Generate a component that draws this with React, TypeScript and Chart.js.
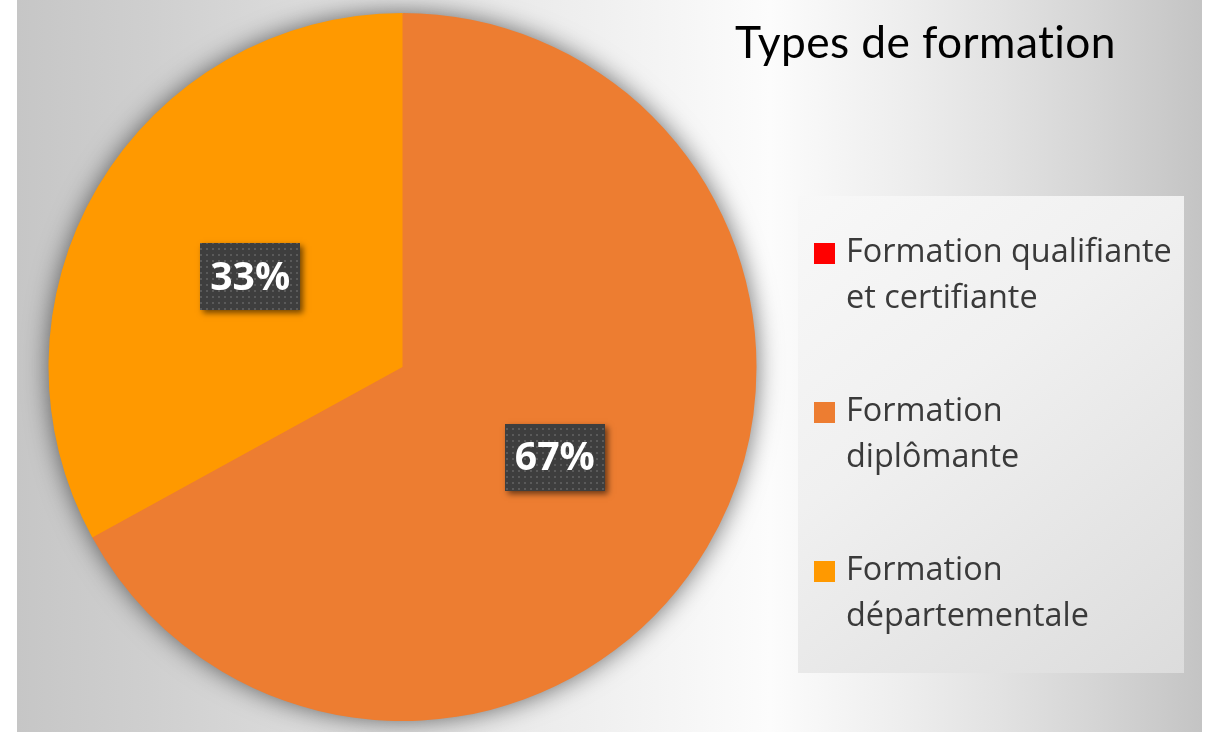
import { useEffect, useRef } from "react";
import { Chart, registerables } from "chart.js";

Chart.register(...registerables);

const chartTitle = "Types de formation";
const legendLines: string[][] = [
  ["Formation qualifiante", "et certifiante"],
  ["Formation", "diplômante"],
  ["Formation", "départementale"],
];
const categories = legendLines.map((l) => l.join(" "));
const values = [0, 67, 33];
const percentLabels = ["0%", "67%", "33%"];
const sliceColors = ["#FF0000", "#ED7D31", "#FF9900"];

const W = 1210;
const H = 732;

function fitSize(ctx: CanvasRenderingContext2D, text: string, target: number, weight: string, family: string) {
  ctx.font = `${weight} 100px ${family}`;
  const w = ctx.measureText(text).width;
  return (100 * target) / w;
}

function makePattern(ctx: CanvasRenderingContext2D) {
  const c = document.createElement("canvas");
  c.width = 6;
  c.height = 6;
  const p = c.getContext("2d")!;
  p.fillStyle = "#3e3e3e";
  p.fillRect(0, 0, 6, 6);
  p.fillStyle = "#5a5a5a";
  p.fillRect(2, 2, 2, 2);
  return ctx.createPattern(c, "repeat")!;
}

const decorPlugin = {
  id: "decor",
  beforeDraw(chart: any) {
    const ctx: CanvasRenderingContext2D = chart.ctx;
    ctx.save();
    ctx.fillStyle = "#ffffff";
    ctx.fillRect(0, 0, W, H);
    const x0 = 17;
    const x1 = 1202;
    const g = ctx.createLinearGradient(x0, 0, x1, 0);
    const stop = (x: number, c: string) => g.addColorStop((x - x0) / (x1 - x0), c);
    stop(17, "#c6c6c6");
    stop(150, "#cfcfcf");
    stop(300, "#dbdbdb");
    stop(450, "#e6e6e6");
    stop(600, "#f0f0f0");
    stop(770, "#fcfcfc");
    stop(900, "#eeeeee");
    stop(1000, "#e2e2e2");
    stop(1100, "#d4d4d4");
    stop(1202, "#c4c4c4");
    ctx.fillStyle = g;
    ctx.fillRect(x0, 0, x1 - x0, H);

    // title
    (ctx as any).textRendering = "optimizeSpeed";
    (ctx as any).letterSpacing = "0.4px";
    const ts = fitSize(ctx, chartTitle, 377, "400", "Lato");
    ctx.font = `400 ${ts}px Lato`;
    ctx.fillStyle = "#000000";
    ctx.textBaseline = "alphabetic";
    ctx.textAlign = "left";
    ctx.fillText(chartTitle, 735, 58);
    (ctx as any).letterSpacing = "0px";
    (ctx as any).textRendering = "auto";

    // legend box
    const lg = ctx.createLinearGradient(798, 196, 1184, 673);
    lg.addColorStop(0, "#f8f8f8");
    lg.addColorStop(0.4, "#f0f0f0");
    lg.addColorStop(1, "#dcdcdc");
    ctx.fillStyle = lg;
    ctx.fillRect(798, 196, 1184 - 798, 673 - 196);

    const ls = fitSize(ctx, legendLines[0][0], 326, "400", "'Open Sans'");
    ctx.font = `400 ${ls}px 'Open Sans'`;
    legendLines.forEach((lines, i) => {
      const base = 262 + i * 159;
      ctx.fillStyle = sliceColors[i];
      ctx.fillRect(814, base - 19, 21, 21);
      ctx.fillStyle = "#3a3a3a";
      lines.forEach((t, j) => ctx.fillText(t, 846, base + j * 46));
    });
    ctx.restore();
  },
  beforeDatasetsDraw(chart: any) {
    const ctx: CanvasRenderingContext2D = chart.ctx;
    const arc = chart.getDatasetMeta(0).data[1];
    if (!arc) return;
    ctx.save();
    ctx.shadowColor = "rgba(0,0,0,0.6)";
    ctx.shadowBlur = 26;
    ctx.shadowOffsetX = 0;
    ctx.shadowOffsetY = 0;
    ctx.fillStyle = sliceColors[1];
    ctx.beginPath();
    ctx.arc(arc.x, arc.y, arc.outerRadius - 1, 0, Math.PI * 2);
    ctx.fill();
    ctx.restore();
  },
  afterDatasetsDraw(chart: any) {
    const ctx: CanvasRenderingContext2D = chart.ctx;
    const meta = chart.getDatasetMeta(0);
    const pattern = makePattern(ctx);
    const fs = fitSize(ctx, "33%", 80, "700", "'Open Sans'");
    meta.data.forEach((el: any, i: number) => {
      if (!values[i]) return;
      const p = el.tooltipPosition(false);
      const bw = 100;
      const bh = 67;
      const bx = Math.round(p.x - bw / 2);
      const by = Math.round(p.y - bh / 2);
      ctx.save();
      ctx.shadowColor = "rgba(0,0,0,0.55)";
      ctx.shadowBlur = 6;
      ctx.shadowOffsetX = 3;
      ctx.shadowOffsetY = 3;
      ctx.fillStyle = "#3f3f3f";
      ctx.fillRect(bx, by, bw, bh);
      ctx.restore();
      ctx.save();
      ctx.fillStyle = pattern;
      ctx.fillRect(bx, by, bw, bh);
      ctx.font = `700 ${fs}px 'Open Sans'`;
      ctx.fillStyle = "#ffffff";
      ctx.textAlign = "center";
      ctx.textBaseline = "middle";
      ctx.fillText(percentLabels[i], p.x, p.y + 2);
      ctx.restore();
    });
  },
};

export default function App() {
  const ref = useRef<HTMLCanvasElement>(null);
  useEffect(() => {
    const canvas = ref.current!;
    const chart = new Chart(canvas, {
      type: "pie",
      data: {
        labels: categories,
        datasets: [
          {
            data: values,
            backgroundColor: sliceColors,
            borderWidth: 0,
            borderColor: sliceColors,
          },
        ],
      },
      options: {
        animation: false,
        responsive: false,
        devicePixelRatio: 1,
        layout: { padding: { left: 47, right: 452, top: 13, bottom: 11 } },
        plugins: {
          legend: { display: false },
          tooltip: { enabled: false },
          title: { display: false },
        },
      },
      plugins: [decorPlugin],
    });
    return () => chart.destroy();
  }, []);
  return (
    <canvas
      ref={ref}
      width={W}
      height={H}
      style={{ position: "fixed", left: 0, top: 0, width: W, height: H }}
    />
  );
}
